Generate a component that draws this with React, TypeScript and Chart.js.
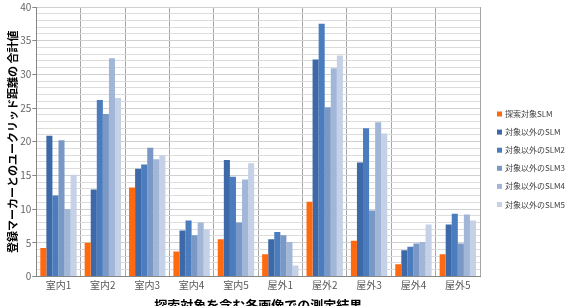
import { useEffect, useRef } from 'react';
import { Chart, registerables } from 'chart.js';

Chart.register(...registerables);

const categories = ['室内1', '室内2', '室内3', '室内4', '室内5', '屋外1', '屋外2', '屋外3', '屋外4', '屋外5'];
const seriesNames = ['探索対象SLM', '対象以外のSLM', '対象以外のSLM2', '対象以外のSLM3', '対象以外のSLM4', '対象以外のSLM5'];
const targetSLM = [4.2, 5.0, 13.2, 3.7, 5.5, 3.3, 11.1, 5.3, 1.8, 3.3];
const otherSLM = [20.9, 12.9, 16.0, 6.8, 17.3, 5.5, 32.2, 16.9, 3.9, 7.7];
const otherSLM2 = [12.0, 26.2, 16.6, 8.3, 14.8, 6.6, 37.5, 22.0, 4.4, 9.3];
const otherSLM3 = [20.2, 24.1, 19.1, 6.1, 8.0, 6.1, 25.1, 9.8, 4.9, 4.9];
const otherSLM4 = [10.0, 32.4, 17.4, 8.0, 14.4, 5.1, 30.9, 22.9, 5.1, 9.2];
const otherSLM5 = [15.1, 26.5, 18.0, 7.0, 16.8, 1.6, 32.8, 21.2, 7.7, 8.3];
const yTickLabels = [0, 5, 10, 15, 20, 25, 30, 35, 40];
const yMinorStep = 1;
const yTitle = '登録マーカーとのユークリッド距離の 合計値';
const xTitle = '探索対象を含む各画像での測定結果';

const colors = ['#FF6A10', '#3D69A8', '#4B7DBE', '#7A98C6', '#A2B6D8', '#C5D1E6'];
const FONT = '"Noto Sans CJK JP", "Noto Sans", sans-serif';

const sideLegend = {
  id: 'sideLegend',
  afterDraw(chart: any) {
    const { ctx, chartArea } = chart;
    ctx.save();
    ctx.font = `8px ${FONT}`;
    ctx.textBaseline = 'middle';
    ctx.textAlign = 'left';
    chart.data.datasets.forEach((ds: any, i: number) => {
      const y = chartArea.top + 107 + i * 18.1;
      const x = chartArea.right + 17;
      ctx.fillStyle = ds.backgroundColor;
      ctx.fillRect(x, y - 2.5, 5, 5);
      ctx.fillStyle = '#404040';
      ctx.fillText(ds.label, x + 8, y);
    });
    ctx.restore();
  },
};

export default function App() {
  const ref = useRef<HTMLCanvasElement>(null);
  useEffect(() => {
    if (!ref.current) return;
    const allSeries = [targetSLM, otherSLM, otherSLM2, otherSLM3, otherSLM4, otherSLM5];
    const yMax = yTickLabels[yTickLabels.length - 1];
    const chart = new Chart(ref.current, {
      type: 'bar',
      data: {
        labels: categories,
        datasets: allSeries.map((d, i) => ({
          label: seriesNames[i],
          data: d,
          backgroundColor: colors[i],
          borderWidth: 0,
          categoryPercentage: 0.82,
          barPercentage: 1,
        })),
      },
      options: {
        responsive: false,
        animation: false,
        devicePixelRatio: 1,
        layout: { padding: { top: 2, right: 100, left: 0, bottom: 0 } },
        plugins: { legend: { display: false }, tooltip: { enabled: false } },
        scales: {
          x: {
            grid: { color: '#a6a6a6', drawTicks: false, offset: true },
            border: { color: '#868686' },
            ticks: { font: { size: 10, family: FONT }, color: '#595959', padding: 3 },
            title: {
              display: true,
              text: xTitle,
              font: { size: 13, weight: 'bold', family: FONT },
              color: '#000',
              padding: { top: 3, bottom: 0 },
            },
          },
          y: {
            min: 0,
            max: yMax,
            afterBuildTicks: (scale: any) => {
              const t = [];
              for (let v = 0; v <= yMax; v += yMinorStep) t.push({ value: v });
              scale.ticks = t;
            },
            ticks: {
              autoSkip: false,
              font: { size: 10, family: FONT },
              color: '#666666',
              padding: 1,
              callback: (v: any) => (yTickLabels.includes(Number(v)) ? String(v) : ''),
            },
            grid: {
              color: (c: any) => (c.tick && c.tick.value % 5 === 0 ? '#d0d0d0' : '#dcdcdc'),
              tickLength: 4,
              tickColor: (c: any) => (c.tick && c.tick.value % 5 === 0 ? '#868686' : 'rgba(0,0,0,0)'),
            },
            border: { color: '#868686' },
            title: {
              display: true,
              text: yTitle,
              font: { size: 11, weight: 'bold', family: FONT },
              color: '#000',
              padding: { top: 6, bottom: 0 },
            },
          },
        },
      },
      plugins: [sideLegend],
    });
    return () => chart.destroy();
  }, []);
  return (
    <div style={{ position: 'fixed', left: 0, top: 0, width: 580, height: 306, overflow: 'hidden', background: '#fff' }}>
      <canvas ref={ref} width={580} height={313} style={{ display: 'block' }} />
    </div>
  );
}
